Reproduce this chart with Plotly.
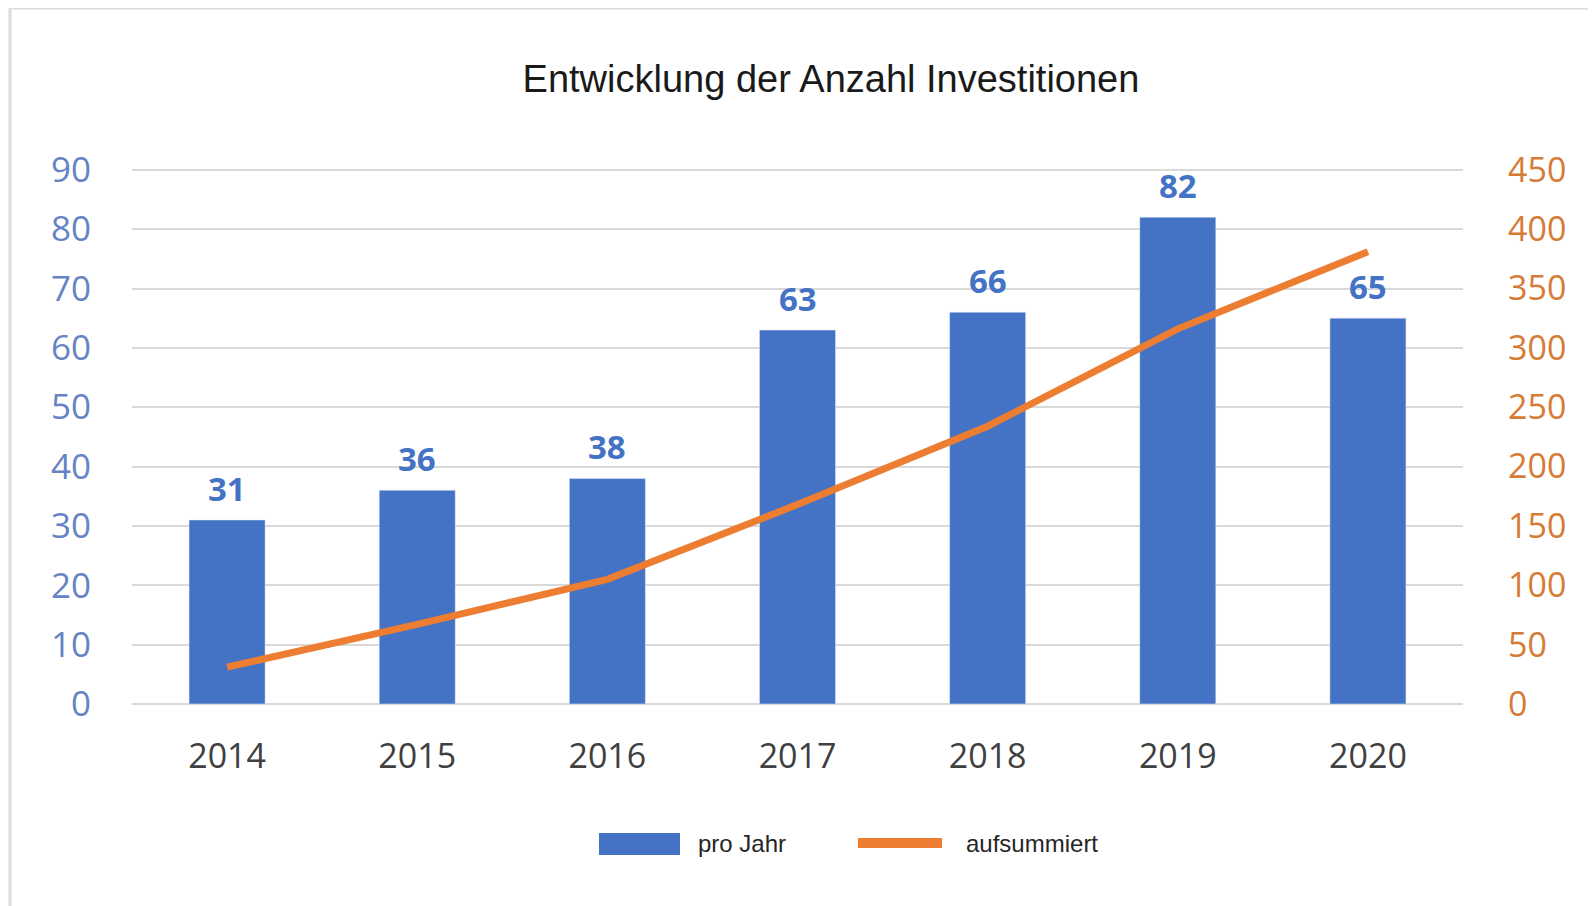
import plotly.graph_objects as go

years = ["2014", "2015", "2016", "2017", "2018", "2019", "2020"]
pro_jahr = [31, 36, 38, 63, 66, 82, 65]
aufsummiert = [31, 67, 105, 168, 234, 316, 381]
left_ticks = [0, 10, 20, 30, 40, 50, 60, 70, 80, 90]
right_ticks = [0, 50, 100, 150, 200, 250, 300, 350, 400, 450]

OFF = 8  # default body margin of the html page
W, H = 1596 - OFF, 906 - OFF
# plot area in window pixels
L, R, T, B = 132, 1463, 168, 704
pw, ph = R - L, B - T

def px(x):
    return (x - L) / pw

def py(y):
    return (B - y) / ph

BLUE = "#4472C4"
ORANGE = "#ED7D31"
GRID = "#D9D9D9"
FONT = "Open Sans"

fig = go.Figure()
fig.add_trace(go.Bar(x=years, y=pro_jahr, name="pro Jahr", marker_color=BLUE,
                     yaxis="y", showlegend=False))
fig.add_trace(go.Scatter(x=years, y=aufsummiert, name="aufsummiert", mode="lines",
                         line=dict(color=ORANGE, width=7), yaxis="y2", showlegend=False))

annotations = []
for i, v in enumerate(pro_jahr):
    annotations.append(dict(x=i, y=v, xref="x", yref="y", text=str(v), showarrow=False,
                            yanchor="bottom", yshift=7,
                            font=dict(family=FONT, size=33, color=BLUE, weight="bold")))

annotations.append(dict(x=px(696), y=py(843), xref="paper", yref="paper", text="pro Jahr",
                        showarrow=False, xanchor="left", yanchor="middle",
                        font=dict(family="Liberation Sans", size=24, color="#262626")))
annotations.append(dict(x=px(964), y=py(843), xref="paper", yref="paper", text="aufsummiert",
                        showarrow=False, xanchor="left", yanchor="middle",
                        font=dict(family="Liberation Sans", size=24, color="#262626")))

shapes = [
    dict(type="rect", xref="paper", yref="paper", x0=px(599), x1=px(680), y0=py(855), y1=py(833),
         fillcolor=BLUE, line=dict(width=0)),
    dict(type="line", xref="paper", yref="paper", x0=px(858), x1=px(942), y0=py(843), y1=py(843),
         line=dict(color=ORANGE, width=10)),
    dict(type="rect", xref="paper", yref="paper", x0=px(10), x1=px(1610), y0=py(930), y1=py(8),
         line=dict(color="#DCDCDC", width=3), fillcolor="rgba(0,0,0,0)", layer="below"),
]

fig.update_layout(
    width=W, height=H,
    margin=dict(l=L - OFF, r=1596 - R, t=T - OFF, b=906 - B),
    paper_bgcolor="white", plot_bgcolor="white",
    title=dict(text="Entwicklung der Anzahl Investitionen", xref="paper", x=px(831), xanchor="center",
               y=1 - (79 - OFF) / H, yanchor="middle",
               font=dict(family="Liberation Sans", size=38, color="#1a1a1a")),
    bargap=0.6,
    xaxis=dict(type="category", tickfont=dict(family=FONT, size=34, color="#404040"), showgrid=False,
               showline=False, ticks="", ticklabelstandoff=29),
    yaxis=dict(range=[0, 90.3], tickvals=left_ticks, showgrid=True, gridcolor=GRID, gridwidth=2,
               zeroline=True, zerolinecolor=GRID, zerolinewidth=2, showline=False, ticks="",
               ticklabelstandoff=40, tickfont=dict(family=FONT, size=35, color="#6684C4")),
    yaxis2=dict(range=[0, 451.5], tickvals=right_ticks, overlaying="y", side="right", showgrid=False,
                zeroline=False, showline=False, ticks="", ticklabelstandoff=44,
                tickfont=dict(family=FONT, size=34, color="#D67B36")),
    annotations=annotations,
    shapes=shapes,
    showlegend=False,
)

fig.write_html("out.html")
